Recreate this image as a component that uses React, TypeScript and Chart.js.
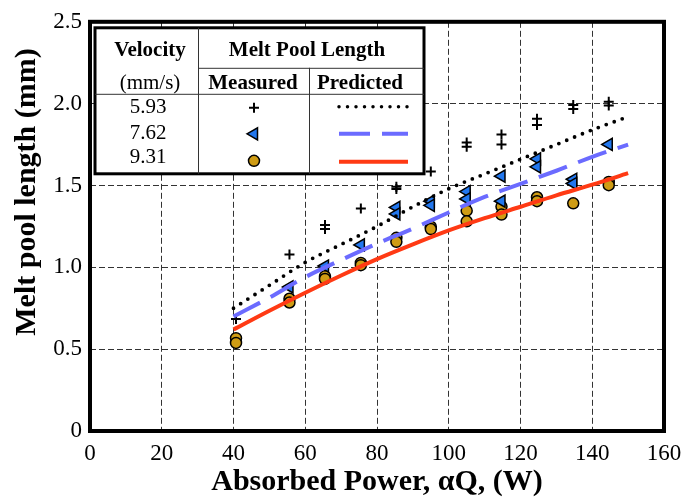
import React, { useEffect, useRef } from 'react';
import { Chart, registerables } from 'chart.js';

Chart.register(...registerables);

// ---- data ----
const velocities = ['5.93', '7.62', '9.31'];

const measuredPower593 = [40.7, 55.6, 65.5, 65.5, 75.5, 85.4, 85.4, 95, 105, 105, 114.7, 114.7, 124.6, 124.6, 134.7, 134.7, 144.6, 144.6];
const measuredLength593 = [0.685, 1.078, 1.258, 1.234, 1.36, 1.492, 1.479, 1.585, 1.762, 1.737, 1.812, 1.751, 1.907, 1.87, 1.991, 1.968, 2.011, 1.989];

const measuredPower762 = [55.6, 65.5, 75.5, 85.4, 85.4, 95, 95, 105, 105, 114.7, 114.7, 124.6, 124.6, 134.7, 134.7, 144.6];
const measuredLength762 = [0.88, 1.008, 1.137, 1.366, 1.326, 1.404, 1.379, 1.463, 1.418, 1.557, 1.404, 1.663, 1.614, 1.538, 1.512, 1.751];

const measuredPower931 = [40.7, 40.7, 55.6, 55.6, 65.5, 65.5, 75.5, 75.5, 85.4, 85.4, 95, 95, 105, 105, 114.7, 114.7, 124.6, 124.6, 134.7, 144.6, 144.6];
const measuredLength931 = [0.567, 0.538, 0.808, 0.785, 0.945, 0.929, 1.027, 1.013, 1.18, 1.156, 1.248, 1.234, 1.346, 1.281, 1.371, 1.322, 1.428, 1.404, 1.391, 1.522, 1.502];

const predictedPower = [40, 50, 60, 70, 80, 90, 100, 110, 120, 130, 140, 150];
const predicted593 = [0.75, 0.89, 1.03, 1.14, 1.25, 1.37, 1.48, 1.57, 1.66, 1.75, 1.84, 1.92];
const predicted762 = [0.70, 0.815, 0.94, 1.045, 1.145, 1.237, 1.335, 1.43, 1.51, 1.59, 1.675, 1.75];
const predicted931 = [0.62, 0.735, 0.845, 0.95, 1.05, 1.14, 1.225, 1.30, 1.37, 1.44, 1.505, 1.575];

const xTickValues = [0, 20, 40, 60, 80, 100, 120, 140, 160];
const yTickValues = [0, 0.5, 1.0, 1.5, 2.0, 2.5];

const xTitle = 'Absorbed Power, \u03b1Q, (W)';
const yTitle = 'Melt pool length (mm)';

// ---- styles ----
const SERIF = '"Liberation Serif", "Times New Roman", serif';
const DOT_COLOR = '#000000';
const DASH_COLOR = '#6b6bff';
const RED_COLOR = '#ff3a14';
const TRI_FILL = '#2277ee';
const CIRCLE_FILL = '#cf9c14';

const pts = (xs: number[], ys: number[]) => xs.map((x, i) => ({ x, y: ys[i] }));

function drawCross(ctx: CanvasRenderingContext2D, x: number, y: number, r: number) {
  ctx.save();
  ctx.strokeStyle = '#000';
  ctx.lineWidth = 2;
  ctx.beginPath();
  ctx.moveTo(x - r, y);
  ctx.lineTo(x + r, y);
  ctx.moveTo(x, y - r);
  ctx.lineTo(x, y + r);
  ctx.stroke();
  ctx.restore();
}

function drawTriLeft(ctx: CanvasRenderingContext2D, x: number, y: number, r: number) {
  ctx.save();
  ctx.fillStyle = TRI_FILL;
  ctx.strokeStyle = '#000';
  ctx.lineWidth = 1.5;
  ctx.beginPath();
  ctx.moveTo(x - r, y);
  ctx.lineTo(x + r * 0.5, y - r * 0.866);
  ctx.lineTo(x + r * 0.5, y + r * 0.866);
  ctx.closePath();
  ctx.fill();
  ctx.stroke();
  ctx.restore();
}

function drawDot(ctx: CanvasRenderingContext2D, x: number, y: number, r: number) {
  ctx.save();
  ctx.fillStyle = CIRCLE_FILL;
  ctx.strokeStyle = '#000';
  ctx.lineWidth = 1.5;
  ctx.beginPath();
  ctx.arc(x, y, r, 0, Math.PI * 2);
  ctx.fill();
  ctx.stroke();
  ctx.restore();
}

const framePlugin = {
  id: 'frameAndTable',
  afterDraw(chart: any) {
    const ctx: CanvasRenderingContext2D = chart.ctx;
    const a = chart.chartArea;
    ctx.save();
    // plot frame
    ctx.strokeStyle = '#000';
    ctx.lineWidth = 4;
    ctx.strokeRect(a.left, a.top, a.right - a.left, a.bottom - a.top);

    // y axis title
    ctx.save();
    ctx.translate(27, 192);
    ctx.rotate(-Math.PI / 2);
    ctx.fillStyle = '#000';
    ctx.font = `bold 30px ${SERIF}`;
    ctx.textAlign = 'center';
    ctx.textBaseline = 'middle';
    ctx.fillText(yTitle, 0, 0);
    ctx.restore();

    // legend table
    const L = a.left + 5;
    const T = a.top + 6;
    const R = a.left + 334;
    const B = a.top + 152;
    const c1 = a.left + 108;
    const c2 = a.left + 219;
    const h1 = a.top + 46;
    const h2 = a.top + 72;
    ctx.fillStyle = '#fff';
    ctx.fillRect(L, T, R - L, B - T);
    ctx.strokeStyle = '#000';
    ctx.lineWidth = 3;
    ctx.strokeRect(L, T, R - L, B - T);
    ctx.lineWidth = 1;
    ctx.strokeStyle = '#333';
    ctx.beginPath();
    ctx.moveTo(c1 + 0.5, T);
    ctx.lineTo(c1 + 0.5, B);
    ctx.moveTo(c2 + 0.5, h1);
    ctx.lineTo(c2 + 0.5, B);
    ctx.moveTo(c1, h1 + 0.5);
    ctx.lineTo(R, h1 + 0.5);
    ctx.moveTo(L, h2 + 0.5);
    ctx.lineTo(R, h2 + 0.5);
    ctx.stroke();

    ctx.fillStyle = '#000';
    ctx.textAlign = 'center';
    ctx.textBaseline = 'middle';
    const velX = a.left + 60;
    ctx.font = `bold 21px ${SERIF}`;
    ctx.fillText('Velocity', velX, a.top + 29);
    ctx.fillText('Melt Pool Length', a.left + 217, a.top + 29);
    ctx.fillText('Measured', a.left + 163, a.top + 62);
    ctx.fillText('Predicted', a.left + 270, a.top + 62);
    ctx.font = `21px ${SERIF}`;
    ctx.fillText('(mm/s)', velX, a.top + 62);
    const rowY = [a.top + 86, a.top + 112, a.top + 136];
    velocities.forEach((v, i) => ctx.fillText(v, velX - 2, rowY[i]));

    const mX = a.left + 164;
    drawCross(ctx, mX, a.top + 86, 5);
    drawTriLeft(ctx, mX, a.top + 112, 7);
    drawDot(ctx, mX, a.top + 139, 5.5);

    const lx0 = a.left + 249;
    const lx1 = a.left + 318;
    ctx.lineWidth = 3.5;
    ctx.lineCap = 'round';
    ctx.strokeStyle = DOT_COLOR;
    ctx.setLineDash([0, 8.5]);
    ctx.beginPath();
    ctx.moveTo(lx0, a.top + 85);
    ctx.lineTo(lx1, a.top + 85);
    ctx.stroke();
    ctx.lineCap = 'butt';
    ctx.lineWidth = 4;
    ctx.strokeStyle = DASH_COLOR;
    ctx.setLineDash([31, 12]);
    ctx.beginPath();
    ctx.moveTo(lx0, a.top + 112);
    ctx.lineTo(lx1, a.top + 112);
    ctx.stroke();
    ctx.setLineDash([]);
    ctx.strokeStyle = RED_COLOR;
    ctx.beginPath();
    ctx.moveTo(lx0, a.top + 140);
    ctx.lineTo(lx1, a.top + 140);
    ctx.stroke();
    ctx.restore();
  },
};

export default function App() {
  const ref = useRef<HTMLCanvasElement>(null);

  useEffect(() => {
    const canvas = ref.current;
    if (!canvas) return;
    const chart = new Chart(canvas, {
      type: 'scatter',
      data: {
        datasets: [
          {
            label: 'Predicted 5.93',
            data: pts(predictedPower, predicted593),
            showLine: true,
            borderColor: DOT_COLOR,
            borderWidth: 3.8,
            borderDash: [0, 8.5],
            borderCapStyle: 'round',
            pointRadius: 0,
            cubicInterpolationMode: 'monotone',
          },
          {
            label: 'Predicted 7.62',
            data: pts(predictedPower, predicted762),
            showLine: true,
            borderColor: DASH_COLOR,
            borderWidth: 4,
            borderDash: [30, 12],
            pointRadius: 0,
            cubicInterpolationMode: 'monotone',
          },
          {
            label: 'Predicted 9.31',
            data: pts(predictedPower, predicted931),
            showLine: true,
            borderColor: RED_COLOR,
            borderWidth: 4,
            pointRadius: 0,
            cubicInterpolationMode: 'monotone',
          },
          {
            label: 'Measured 5.93',
            data: pts(measuredPower593, measuredLength593),
            pointStyle: 'cross',
            pointRadius: 5,
            pointBorderWidth: 2,
            pointBorderColor: '#000',
            pointBackgroundColor: '#000',
          },
          {
            label: 'Measured 7.62',
            data: pts(measuredPower762, measuredLength762),
            pointStyle: 'triangle',
            rotation: -90,
            pointRadius: 7,
            pointBorderWidth: 1.5,
            pointBorderColor: '#000',
            pointBackgroundColor: TRI_FILL,
          },
          {
            label: 'Measured 9.31',
            data: pts(measuredPower931, measuredLength931),
            pointStyle: 'circle',
            pointRadius: 5.5,
            pointBorderWidth: 1.5,
            pointBorderColor: '#000',
            pointBackgroundColor: CIRCLE_FILL,
          },
        ] as any,
      },
      options: {
        animation: false,
        responsive: true,
        maintainAspectRatio: false,
        layout: { padding: { left: 0, top: 5, right: 29, bottom: 0 } },
        plugins: { legend: { display: false }, tooltip: { enabled: false } },
        scales: {
          x: {
            type: 'linear',
            min: 0,
            max: 160,
            afterBuildTicks: (s: any) => {
              s.ticks = xTickValues.map((v) => ({ value: v }));
            },
            ticks: {
              color: '#000',
              font: { family: SERIF, size: 23 },
              padding: 9,
              maxRotation: 0,
              autoSkip: false,
              callback: (v: any) => String(v),
            },
            grid: { color: '#333', lineWidth: 1, drawTicks: false },
            border: { display: false, dash: [6, 3] },
            title: {
              display: true,
              text: xTitle,
              color: '#000',
              font: { family: SERIF, size: 30, weight: 'bold' },
              padding: { top: 0, bottom: 3 },
            },
            afterFit: (s: any) => {
              s.height = 72;
            },
          },
          y: {
            type: 'linear',
            min: 0,
            max: 2.5,
            afterBuildTicks: (s: any) => {
              s.ticks = yTickValues.map((v) => ({ value: v }));
            },
            ticks: {
              color: '#000',
              font: { family: SERIF, size: 23 },
              padding: 8,
              autoSkip: false,
              callback: (v: any) => (Number(v) === 0 ? '0' : Number(v).toFixed(1)),
            },
            grid: { color: '#333', lineWidth: 1, drawTicks: false },
            border: { display: false, dash: [6, 3] },
            title: { display: false, text: yTitle },
            afterFit: (s: any) => {
              s.width = 90;
            },
          },
        },
      } as any,
      plugins: [framePlugin],
    });
    return () => chart.destroy();
  }, []);

  return (
    <div style={{ position: 'fixed', left: 0, top: 0, width: 693, height: 503, background: '#fff' }}>
      <canvas ref={ref} />
    </div>
  );
}
